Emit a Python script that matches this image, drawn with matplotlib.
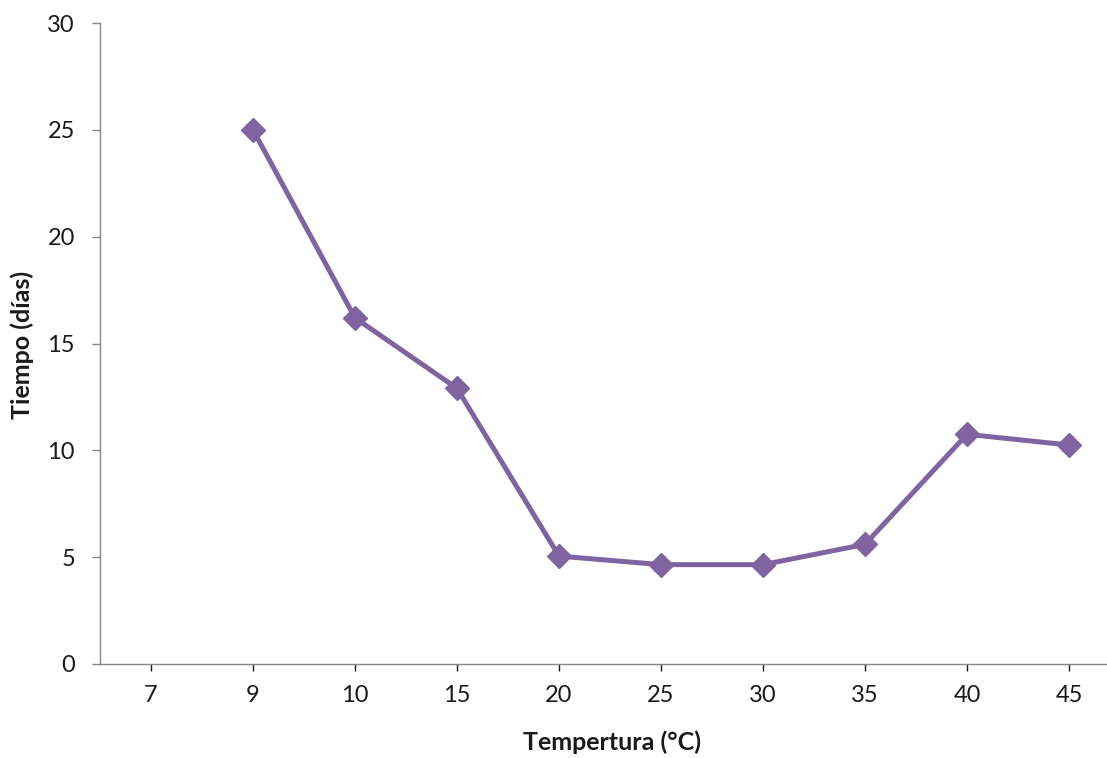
import matplotlib
matplotlib.use("Agg")
import matplotlib.pyplot as plt
import numpy as np

categories = ["7", "9", "10", "15", "20", "25", "30", "35", "40", "45"]
tiempo = [np.nan, 25.0, 16.2, 12.9, 5.05, 4.65, 4.65, 5.6, 10.75, 10.25]
y_ticks = [0, 5, 10, 15, 20, 25, 30]

plt.rcParams['font.family'] = ['Lato', 'DejaVu Sans']

fig = plt.figure(figsize=(11.07, 7.58), dpi=100)
ax = fig.add_axes([100/1107, 94/758, 1020/1107, 641/758])

x = np.arange(len(categories))
color = "#8064A2"
ax.plot(x, tiempo, color=color, lw=3.6, marker="D", markersize=12.5,
        markerfacecolor=color, markeredgecolor=color, solid_joinstyle="round")

ax.set_xlim(-0.5, len(categories) - 0.5)
ax.set_ylim(0, 30)
ax.set_yticks(y_ticks)
ax.set_xticks(x)
ax.set_xticklabels(categories)

for s in ["top", "right"]:
    ax.spines[s].set_visible(False)
for s in ["left", "bottom"]:
    ax.spines[s].set_color("#868686")
    ax.spines[s].set_linewidth(1.0)

ax.tick_params(axis="y", direction="out", length=6, width=1, color="#868686",
               labelsize=17, pad=12, labelcolor="#1a1a1a")
ax.tick_params(axis="x", direction="out", length=5, width=1, color="#1a1a1a",
               labelsize=17, pad=10, labelcolor="#1a1a1a")

fig.text(612/1107, 1 - 742/758, "Tempertura (°C)", ha="center", va="center",
         fontsize=18, fontweight="bold", color="#1a1a1a")
fig.text(22/1107, 1 - 345/758, "Tiempo (días)", ha="center", va="center",
         rotation=90, fontsize=18, fontweight="bold", color="#1a1a1a")

fig.savefig("out.png", dpi=100)
